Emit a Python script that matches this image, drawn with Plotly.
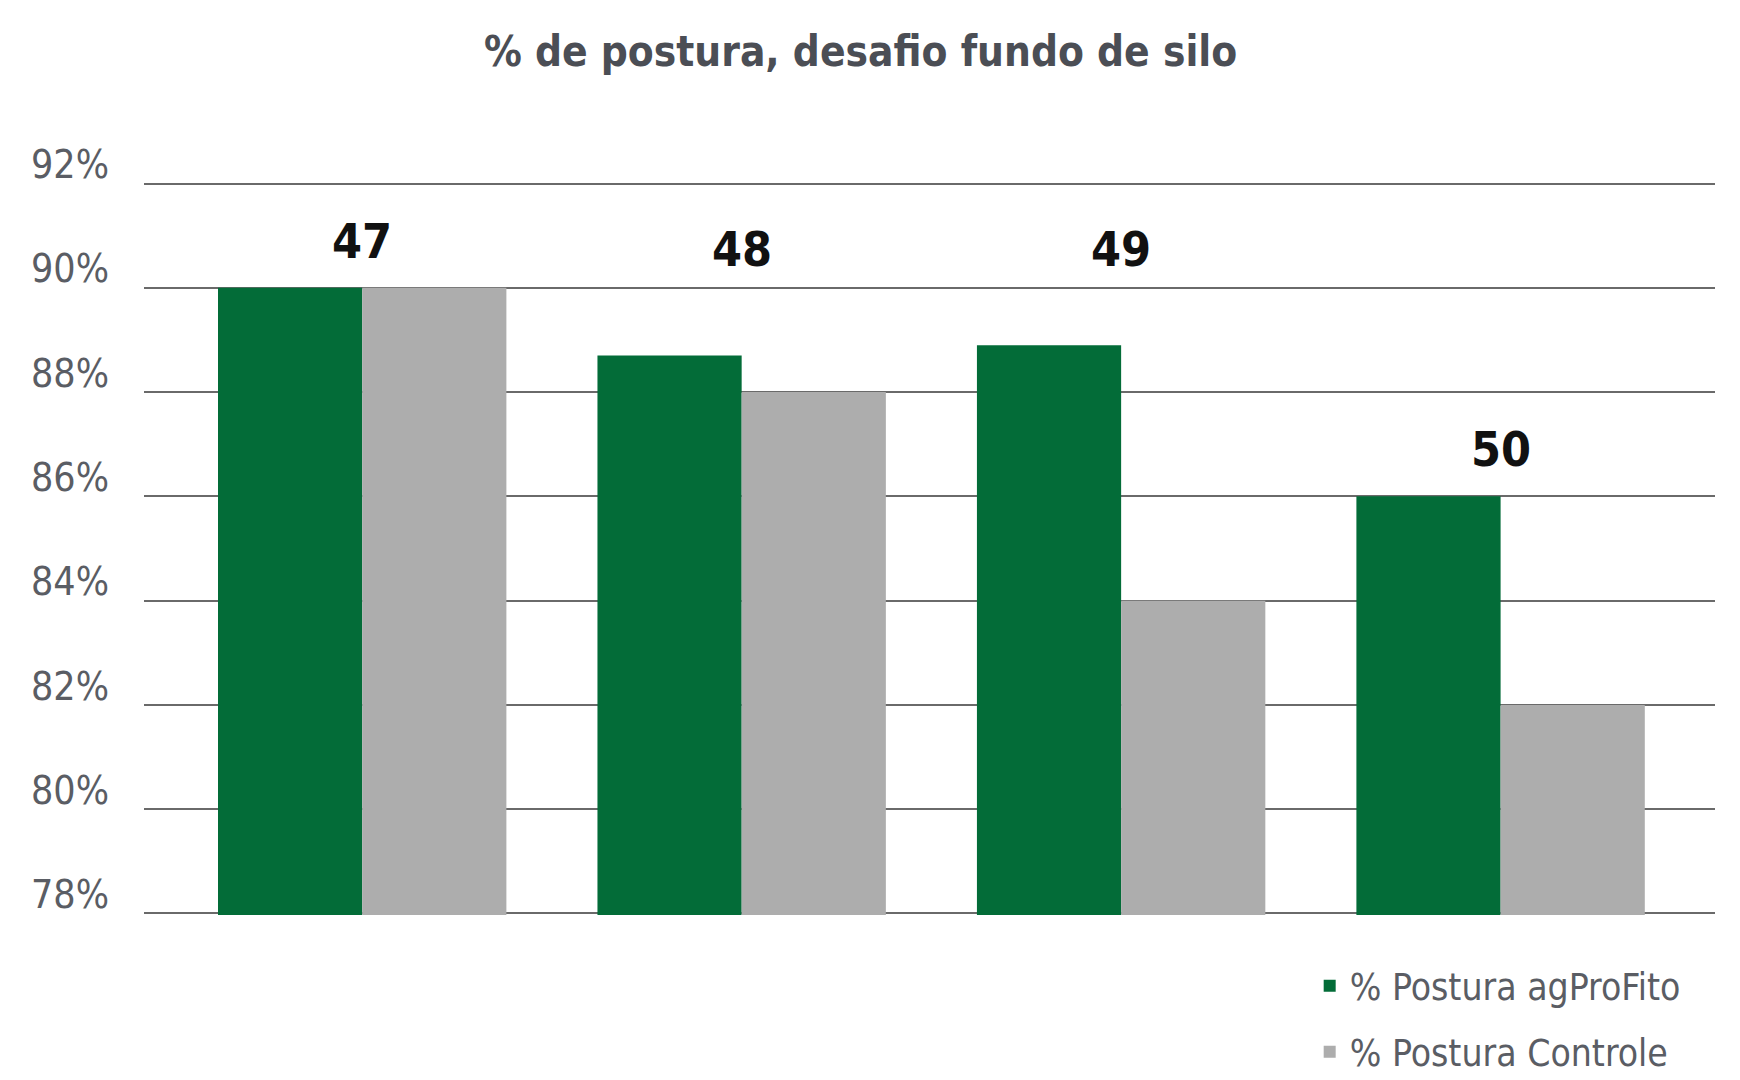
import plotly.graph_objects as go

# weeks (shown as labels above each group)
semanas = ["47", "48", "49", "50"]
postura_agprofito = [90.0, 88.7, 88.9, 86.0]
postura_controle = [90.0, 88.0, 84.0, 82.0]
y_ticks = [78, 80, 82, 84, 86, 88, 90, 92]
y_tick_labels = ["78%", "80%", "82%", "84%", "86%", "88%", "90%", "92%"]

# height (in axis units) where each week label sits
label_levels = [90.0, 89.85, 89.85, 86.0]

FONT = "DejaVu Sans Condensed, Roboto, sans-serif"
GREEN = "#036c38"
GRAY = "#adadad"

fig = go.Figure()

fig.add_trace(go.Bar(
    x=semanas, y=postura_agprofito, base=0,
    name="% Postura agProFito", legendgroup="a",
    marker=dict(color=GREEN, line=dict(width=0)),
))
fig.add_trace(go.Bar(
    x=semanas, y=postura_controle, base=0,
    name="% Postura Controle", legendgroup="b",
    marker=dict(color=GRAY, line=dict(width=0)),
))

# week labels above groups (x given as category index)
for i, (s, lv) in enumerate(zip(semanas, label_levels)):
    fig.add_annotation(
        x=i, y=lv, text=s, showarrow=False,
        yanchor="bottom", yshift=17,
        font=dict(family=FONT, size=48, color="#111111", weight="bold"),
    )

fig.update_layout(
    width=1740, height=1080,
    paper_bgcolor="white", plot_bgcolor="white",
    margin=dict(l=136, r=33, t=174, b=173, autoexpand=False),
    barmode="group", bargap=0.24, bargroupgap=0,
    title=dict(
        text="% de postura, desafio fundo de silo",
        x=0.49, xanchor="center", y=0.96, yanchor="middle",
        font=dict(family=FONT, size=42, color="#4b4e55", weight="bold"),
    ),
    showlegend=True,
    legend=dict(
        x=0.742, xanchor="left", y=0.123, yanchor="top", yref="container",
        font=dict(family=FONT, size=37, color="#5a5d64"),
        bgcolor="rgba(0,0,0,0)", tracegroupgap=15, traceorder="grouped",
        itemsizing="constant",
    ),
    xaxis=dict(
        type="category", range=[-0.575, 3.565],
        showticklabels=False, showgrid=False, showline=False, zeroline=False,
    ),
    yaxis=dict(
        range=[77.97, 92.03], tickvals=y_ticks, ticktext=y_tick_labels,
        showgrid=True, gridcolor="#6a6a6a", gridwidth=1.5,
        zeroline=False, showline=False, automargin=False,
        ticklabelshift=-19, ticklabelstandoff=34,
        tickfont=dict(family=FONT, size=39, color="#5a5d64"),
    ),
)

fig.write_html("out.html")
